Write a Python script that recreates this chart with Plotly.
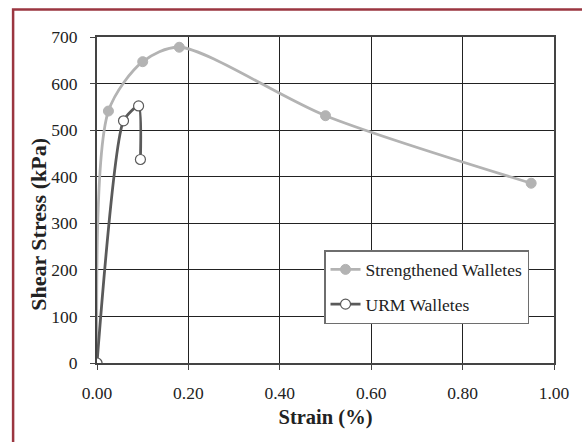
import plotly.graph_objects as go

strain_str = [0.0, 0.025, 0.10, 0.18, 0.50, 0.95]
stress_str = [0, 541, 647, 678, 531, 386]
strain_urm = [0.0, 0.058, 0.091, 0.095]
stress_urm = [0, 520, 552, 437]

x_ticks = [0.0, 0.2, 0.4, 0.6, 0.8, 1.0]
x_tick_labels = ["0.00", "0.20", "0.40", "0.60", "0.80", "1.00"]
y_ticks = [0, 100, 200, 300, 400, 500, 600, 700]

FONT = "Liberation Serif, Times New Roman, serif"

fig = go.Figure()
fig.add_trace(go.Scatter(
    x=strain_str, y=stress_str, name="Strengthened Walletes", legendgroup="a",
    mode="lines+markers", line=dict(color="#b3b3b3", width=2.8, shape="spline", smoothing=0.8),
    marker=dict(color="#b3b3b3", size=10, line=dict(color="#b3b3b3", width=1)),
))
fig.add_trace(go.Scatter(
    x=strain_urm, y=stress_urm, name="URM Walletes", legendgroup="b",
    mode="lines+markers", line=dict(color="#5a5a5a", width=2.8, shape="spline", smoothing=0.6),
    marker=dict(color="white", size=10, line=dict(color="#5a5a5a", width=1.2)),
))

L, R, T, B = 97, 22, 37, 79
W, H = 582, 442
pw, ph = W - L - R, H - T - B
fx = lambda px: (px - L) / pw
fy = lambda py: (H - B - py) / ph

fig.add_shape(type="path", xref="paper", yref="paper",
              path=f"M {fx(12)} {fy(460)} L {fx(12)} {fy(9.5)} L {fx(600)} {fy(9.5)}",
              line=dict(color="#9b3640", width=2.5), layer="above")

fig.add_annotation(text="<b>Shear Stress (kPa)</b>", xref="paper", yref="paper",
                   x=fx(37), y=fy(224), xanchor="center", yanchor="middle",
                   textangle=-90, showarrow=False,
                   font=dict(family=FONT, size=22, color="#222"))

fig.update_layout(
    width=W, height=H,
    margin=dict(l=L, r=R, t=T, b=B),
    paper_bgcolor="white", plot_bgcolor="white",
    font=dict(family=FONT, size=17.5, color="#222"),
    showlegend=True,
    legend=dict(x=fx(327), y=fy(250), xanchor="left", yanchor="top",
                bgcolor="white", bordercolor="#6e6e6e", borderwidth=1.5,
                font=dict(family=FONT, size=17.5, color="#222"),
                itemwidth=30, tracegroupgap=9),
    xaxis=dict(range=[0, 1.0], tickvals=x_ticks, ticktext=x_tick_labels,
               showgrid=True, gridcolor="#222", gridwidth=1,
               showline=True, linecolor="#444", linewidth=2, mirror=True,
               ticks="outside", ticklen=5, tickcolor="#444",
               ticklabelstandoff=8,
               zeroline=False,
               title=dict(text="<b>Strain (%)</b>", font=dict(family=FONT, size=20.5, color="#222"), standoff=8)),
    yaxis=dict(range=[0, 700], tickvals=y_ticks,
               showgrid=True, gridcolor="#222", gridwidth=1,
               showline=True, linecolor="#444", linewidth=2, mirror=True,
               ticks="outside", ticklen=5, tickcolor="#444",
               ticklabelstandoff=9,
               zeroline=False),
)
fig.write_html("out.html")
